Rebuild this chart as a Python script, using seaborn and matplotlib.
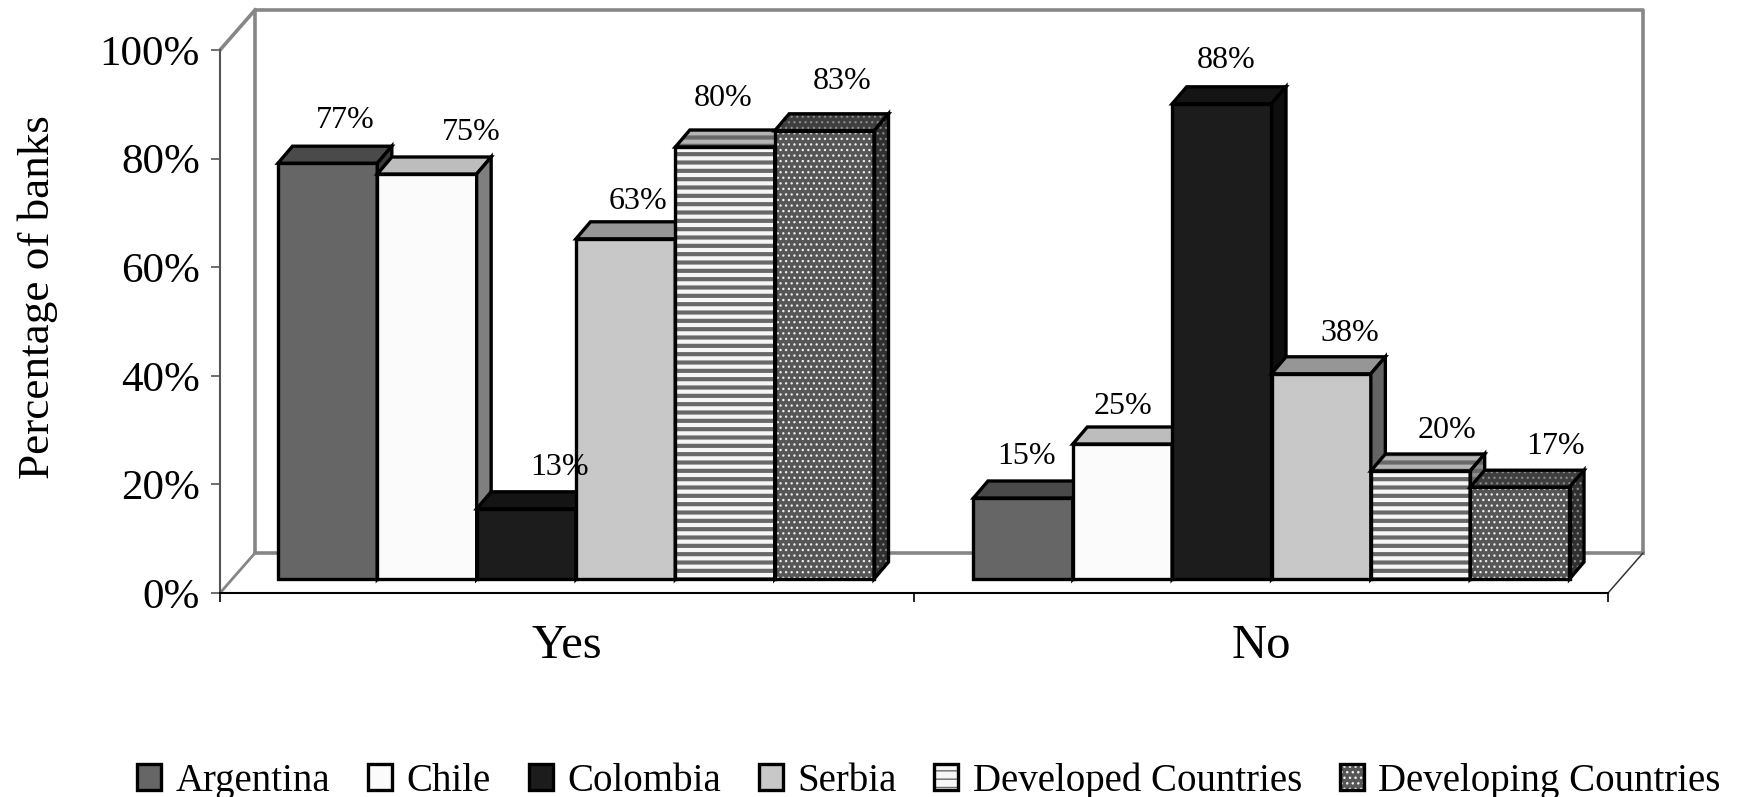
import matplotlib
matplotlib.use("Agg")
import matplotlib.pyplot as plt
from matplotlib.legend_handler import HandlerTuple
from matplotlib.patches import Patch, Polygon, Rectangle
import pandas as pd
import seaborn as sns

# Survey results
answers = ["Yes", "No"]
countries = ["Argentina", "Chile", "Colombia", "Serbia",
             "Developed Countries", "Developing Countries"]
yes_values = [77, 75, 13, 63, 80, 83]
no_values = [15, 25, 88, 38, 20, 17]

# Value-label nudges in pixels (right, up), measured from the top of each bar
yes_nudges = [(18, 43), (44, 41), (33, 41), (12, 37), (-2, 49), (18, 49)]
no_nudges = [(3, 41), (1, 38), (4, 43), (29, 40), (26, 40), (36, 41)]

# Shading per series: front, top, side, hatch, hatch colours
front_colors = ["#666666", "#fbfbfb", "#1c1c1c", "#c8c8c8", "#f6f6f6", "#565656"]
top_colors = ["#4a4a4a", "#bdbdbd", "#141414", "#969696", "#b4b4b4", "#3e3e3e"]
side_colors = ["#3a3a3a", "#7f7f7f", "#0e0e0e", "#646464", "#8c8c8c", "#303030"]
hatches = [None, None, None, None, "--", "..."]
hatch_colors = ["#000000"] * 4 + ["#686868", "#f0f0f0"]
shaded_hatch_colors = ["#000000"] * 4 + ["#686868", "#8a8a8a"]
hatch_widths = [0, 0, 0, 0, 3.0, 0.9]
EDGE = 2.4

WIDTH, HEIGHT = 1739, 797
sns.set_theme(style="white")
plt.rcParams["font.family"] = ["Liberation Serif", "DejaVu Serif"]
plt.rcParams.update({"text.color": "black", "axes.labelcolor": "black",
                     "xtick.color": "black", "ytick.color": "black"})


def pixel_axes(fig, left, right, top, bottom):
    """Axes placed by its pixel box, origin at the top-left of the figure."""
    return fig.add_axes([left / WIDTH, 1 - bottom / HEIGHT,
                         (right - left) / WIDTH, (bottom - top) / HEIGHT])


fig = plt.figure(figsize=(WIDTH / 100, HEIGHT / 100), dpi=100)

# Front plane of the box: the value and category axes
frame = pixel_axes(fig, 220, 1608, 50, 593)
frame.set_xlim(-0.5, 1.5)
frame.set_ylim(0, 100)
frame.set_xticks([-0.5, 0.5, 1.5])
frame.set_xticklabels([])
frame.set_xticks([0, 1], labels=answers, minor=True)
frame.tick_params(axis="x", which="minor", length=0, labelsize=35, pad=22)
frame.tick_params(axis="x", which="major", length=6.5, width=1.2, color="black",
                  bottom=True)
frame.set_yticks(range(0, 101, 20), labels=[f"{v}%" for v in range(0, 101, 20)])
frame.tick_params(axis="y", length=6.5, width=1.2, color="#555555", left=True,
                  labelsize=31, pad=8)
frame.set_ylabel("Percentage of banks", fontsize=32.5, labelpad=30, y=0.545)
for name in ("top", "right"):
    frame.spines[name].set_visible(False)
frame.spines["left"].set_color("#555555")
frame.spines["left"].set_linewidth(1.5)
frame.spines["bottom"].set_color("black")
frame.spines["bottom"].set_linewidth(1.5)

# Back wall and floor, pushed into depth from the front plane
depth_x, depth_y = 35 / 694, 40 / 5.43
wall = dict(color="#868686", lw=2.6, clip_on=False, solid_capstyle="projecting")
x0, x1 = -0.5 + depth_x, 1.5 + depth_x
frame.plot([x0, x0, x1, x1], [depth_y, 100 + depth_y, 100 + depth_y, depth_y], **wall)
frame.plot([x0, x1], [depth_y, depth_y], **wall)
frame.plot([-0.5, x0], [100, 100 + depth_y], **wall)
frame.plot([-0.5, x0], [0, depth_y], color="#868686", lw=2, clip_on=False)
frame.plot([1.5, x1], [0, depth_y], color="#333333", lw=1.1, clip_on=False)

# Bars sit on their own transparent axes, set back from the front plane
bars = pixel_axes(fig, 228.25, 1619.25, 39, 579)
bars.patch.set_alpha(0)
table = pd.DataFrame({
    "answer": [a for a in answers for _ in countries],
    "country": countries * 2,
    "percent": yes_values + no_values,
})
sns.barplot(data=table, x="answer", y="percent", hue="country",
            hue_order=countries, order=answers, palette=front_colors,
            width=0.857, gap=0, saturation=1, legend=False, ax=bars)
bars.set_xlim(-0.5, 1.5)
bars.set_ylim(0, 100)
bars.axis("off")

bar_dx, bar_dy = 14.5 / 695.5, 17 / 5.4
px_x, px_y = 1 / 695.5, 1 / 5.4
nudges = [yes_nudges, no_nudges]
for s, container in enumerate(bars.containers):
    z = 3 + s
    for g, rect in enumerate(container):
        xl, w, h = rect.get_x(), rect.get_width(), rect.get_height()
        xr = xl + w
        outline = dict(edgecolor="black", linewidth=EDGE, joinstyle="miter",
                       zorder=z, clip_on=False)
        rect.set_zorder(z)
        rect.set_clip_on(False)
        # Top and side faces, sharing the series' pattern
        for verts, color in (
            ([(xl, h), (xl + bar_dx, h + bar_dy), (xr + bar_dx, h + bar_dy), (xr, h)],
             top_colors[s]),
            ([(xr, 0), (xr + bar_dx, bar_dy), (xr + bar_dx, h + bar_dy), (xr, h)],
             side_colors[s]),
        ):
            if hatches[s]:
                face = Polygon(verts, facecolor=color, hatch=hatches[s],
                               edgecolor=shaded_hatch_colors[s], linewidth=0,
                               zorder=z, clip_on=False)
                face.set_hatch_linewidth(hatch_widths[s])
                bars.add_patch(face)
                bars.add_patch(Polygon(verts, fill=False, **outline))
            else:
                bars.add_patch(Polygon(verts, facecolor=color, **outline))
        # Front face
        if hatches[s]:
            rect.set_hatch(hatches[s])
            rect.set_hatch_linewidth(hatch_widths[s])
            rect.set_edgecolor(hatch_colors[s])
            rect.set_linewidth(0)
            bars.add_patch(Rectangle((xl, 0), w, h, fill=False, **outline))
        else:
            rect.set(edgecolor="black", linewidth=EDGE, joinstyle="miter")
        nx, ny = nudges[g][s]
        bars.text(xl + w / 2 + nx * px_x, h + ny * px_y, f"{h:.0f}%",
                  ha="center", va="center", fontsize=23, color="black",
                  zorder=20, clip_on=False)

# Legend along the bottom edge of the figure
handles = []
for s in range(len(countries)):
    if hatches[s]:
        swatch = Patch(facecolor=front_colors[s], hatch=hatches[s],
                       edgecolor=hatch_colors[s], linewidth=0)
        swatch.set_hatch_linewidth(hatch_widths[s])
        handles.append((swatch, Patch(fill=False, edgecolor="black", linewidth=EDGE)))
    else:
        handles.append((Patch(facecolor=front_colors[s], edgecolor="black",
                              linewidth=EDGE),))
fig.legend(handles, countries, loc="center", ncol=6,
           bbox_to_anchor=((122 + 1553) / 2 / 1568, 1 - 781 / HEIGHT),
           frameon=False, fontsize=28,
           handler_map={tuple: HandlerTuple(ndivide=1, pad=0)},
           handlelength=0.62, handleheight=0.62, handletextpad=0.37,
           columnspacing=0.97, borderpad=0, borderaxespad=0)

fig.savefig("out.png", dpi=100)
